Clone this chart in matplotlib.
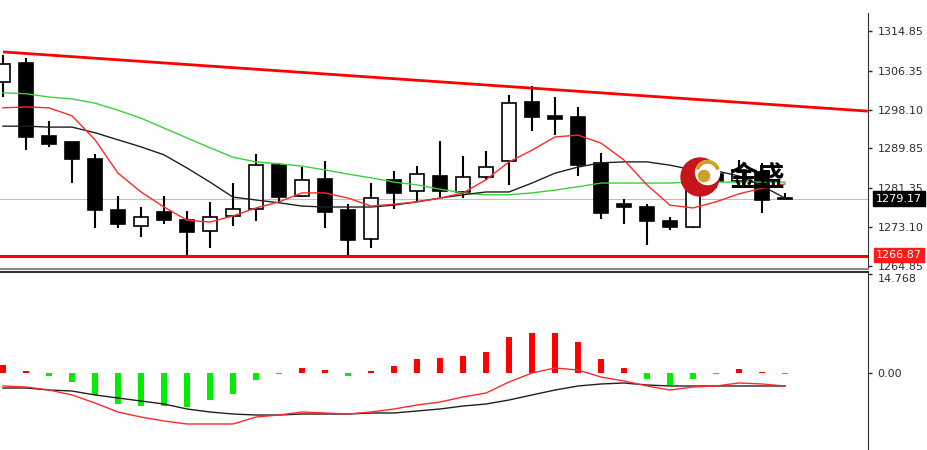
import numpy as np
import matplotlib.pyplot as plt
from matplotlib.patches import Circle, Wedge
from matplotlib.transforms import blended_transform_factory

# candle data
opens = [1304.0, 1308.0, 1292.5, 1291.2, 1287.6, 1276.8, 1273.4, 1276.3, 1274.6, 1272.3,
         1275.5, 1277.0, 1286.3, 1279.7, 1283.4, 1276.8, 1270.6, 1283.1, 1280.8, 1284.0,
         1280.6, 1283.8, 1287.2, 1299.7, 1296.8, 1296.6, 1286.8, 1278.0, 1277.4, 1274.4,
         1273.1, 1284.5, 1283.0, 1284.85, 1279.3]
closes = [1307.8, 1292.3, 1290.8, 1287.6, 1276.8, 1273.8, 1275.3, 1274.6, 1272.1, 1275.3,
          1277.0, 1286.3, 1279.5, 1283.1, 1276.3, 1270.4, 1279.3, 1280.4, 1284.4, 1280.8,
          1283.8, 1285.9, 1299.5, 1296.6, 1296.1, 1286.3, 1276.1, 1277.4, 1274.4, 1273.1,
          1284.5, 1283.0, 1285.3, 1278.9, 1279.17]
highs = [1309.7, 1309.1, 1295.7, 1291.2, 1288.7, 1279.7, 1277.4, 1279.7, 1276.5, 1278.5,
         1282.5, 1288.7, 1286.8, 1285.9, 1287.2, 1278.0, 1282.5, 1285.0, 1286.1, 1291.4,
         1288.3, 1289.3, 1301.2, 1303.1, 1300.8, 1298.7, 1288.9, 1279.1, 1278.0, 1275.3,
         1286.3, 1286.0, 1287.4, 1286.8, 1280.4]
lows = [1300.8, 1289.5, 1290.2, 1282.5, 1272.9, 1272.9, 1271.0, 1273.8, 1266.5, 1268.7,
        1273.4, 1274.4, 1278.2, 1279.5, 1272.9, 1266.5, 1268.7, 1277.0, 1278.5, 1279.5,
        1279.3, 1283.1, 1282.1, 1293.6, 1292.7, 1284.0, 1274.8, 1273.8, 1269.3, 1272.5,
        1272.9, 1281.5, 1282.0, 1276.1, 1279.1]

# moving averages
ma_red = [1298.5, 1298.7, 1298.5, 1296.8, 1291.7, 1284.6, 1280.6, 1277.4, 1274.6, 1274.2,
          1275.5, 1277.2, 1278.5, 1280.4, 1280.4, 1279.3, 1277.6, 1278.0, 1278.5, 1279.3,
          1280.4, 1283.2, 1287.0, 1289.5, 1292.3, 1292.7, 1291.0, 1287.4, 1282.1, 1277.8,
          1277.2, 1278.5, 1280.2, 1281.4, 1282.3]
ma_black = [1294.6, 1294.6, 1294.4, 1294.4, 1293.2, 1291.7, 1290.2, 1288.5, 1285.7, 1282.7,
            1279.5, 1278.9, 1278.3, 1277.6, 1277.4, 1277.4, 1277.4, 1277.8, 1278.5, 1279.3,
            1280.0, 1280.6, 1280.6, 1282.5, 1284.6, 1285.9, 1286.8, 1287.0, 1287.0, 1286.3,
            1285.3, 1285.1, 1284.0, 1281.9, 1279.3]
ma_green = [1301.7, 1301.5, 1300.8, 1300.4, 1299.5, 1298.0, 1296.3, 1294.2, 1292.1, 1290.0,
            1288.0, 1287.0, 1286.6, 1286.1, 1285.3, 1284.4, 1283.6, 1282.7, 1282.1, 1281.2,
            1280.4, 1280.0, 1280.0, 1280.4, 1281.0, 1281.7, 1282.5, 1282.5, 1282.5, 1282.5,
            1282.7, 1282.7, 1282.7, 1282.7, 1282.7]

# MACD panel
dif = [-1.94, -2.09, -2.54, -3.28, -4.48, -5.82, -6.57, -7.16, -7.61, -7.61,
       -7.61, -6.57, -6.27, -5.82, -5.97, -6.12, -5.82, -5.37, -4.78, -4.33,
       -3.58, -2.99, -1.34, 0.0, 0.75, 0.45, -0.60, -1.19, -1.94, -2.54,
       -2.09, -1.94, -1.49, -1.64, -1.94]
dea = [-2.24, -2.24, -2.54, -2.69, -3.28, -3.73, -4.18, -4.63, -5.37, -5.82,
       -6.12, -6.27, -6.27, -6.12, -6.12, -6.12, -5.97, -5.97, -5.67, -5.37,
       -4.93, -4.63, -4.03, -3.28, -2.54, -1.94, -1.64, -1.49, -1.79, -1.94,
       -1.94, -1.94, -1.94, -1.94, -1.94]
hist = [1.19, 0.3, -0.45, -1.34, -3.28, -4.6, -4.9, -4.9, -5.0, -4.0,
        -3.2, -1.0, -0.2, 0.75, 0.45, -0.5, 0.3, 1.1, 2.1, 2.3,
        2.6, 3.2, 5.4, 6.0, 6.0, 4.6, 2.1, 0.75, -0.85, -1.8,
        -0.85, -0.15, 0.6, 0.15, -0.15]

# levels
trend_x = [0, 37.6]
trend_y = [1310.4, 1297.8]
support = 1266.87
last_price = 1279.17
price_ticks = [1314.85, 1306.35, 1298.10, 1289.85, 1281.35, 1273.10, 1264.85]
macd_ticks = [14.768, 0.0]
macd_labels = ['14.768', '0.00']

W, H = 928, 450
fig = plt.figure(figsize=(W / 100, H / 100), dpi=100)


def px_box(x0, y0, x1, y1):
    return [x0 / W, 1 - y1 / H, (x1 - x0) / W, (y1 - y0) / H]


label_col = '#2b2b3b'
ax = fig.add_axes(px_box(0, 13, 868, 269))
ax2 = fig.add_axes(px_box(0, 272, 868, 450))

x = np.arange(len(opens))
o = np.array(opens)
c = np.array(closes)

# candles
ax.vlines(x, lows, highs, color='black', lw=1.5, zorder=2)
up = c >= o
body_lo = np.minimum(o, c)
body_h = np.maximum(np.abs(c - o), 0.15)
ax.bar(x, body_h, bottom=body_lo, width=0.62,
       color=np.where(up, 'white', 'black'), edgecolor='black', lw=1.2, zorder=3)

# moving averages
ax.plot(x, ma_green, color='#3ccf3c', lw=1, zorder=4)
ax.plot(x, ma_black, color='#202020', lw=1, zorder=4)
ax.plot(x, ma_red, color='#ff2a2a', lw=1, zorder=4)

# lines
ax.axhline(last_price, color='#c0c0c0', lw=0.8, zorder=1)
ax.axhline(support, color='#ff0000', lw=2.2, zorder=5)
ax.plot(trend_x, trend_y, color='#ff0000', lw=2, zorder=5, solid_capstyle='butt')

ax.set_xlim(-3 / 23, 865 / 23)
ax.set_ylim(1264.21, 1318.68)
ax.yaxis.tick_right()
ax.set_yticks(price_ticks)
ax.set_yticklabels(['%.2f' % v for v in price_ticks])
ax.tick_params(axis='y', direction='out', length=3, pad=4, labelsize=8,
               colors=label_col, width=1)
ax.set_xticks([])
for s in ['left', 'top']:
    ax.spines[s].set_visible(False)
ax.spines['bottom'].set_color('#8a8a8a')
ax.spines['bottom'].set_linewidth(1.5)
ax.spines['right'].set_color('#333333')

# price boxes on the right axis
tr = blended_transform_factory(ax.transAxes, ax.transData)
ax.text(1 + 8 / 868, last_price, '%.2f' % last_price, transform=tr, fontsize=8,
        color='white', va='center', ha='left', clip_on=False, zorder=10,
        bbox=dict(boxstyle='square,pad=0.25', fc='black', ec='black'))
ax.text(1 + 8 / 868, support + 0.3, '%.2f' % support, transform=tr, fontsize=8,
        color='white', va='center', ha='left', clip_on=False, zorder=10,
        bbox=dict(boxstyle='square,pad=0.2', fc='#ff1a1a', ec='#ff1a1a'))

# MACD panel
hcol = np.where(np.array(hist) >= 0, '#ff0000', '#00ee00')
ax2.bar(x, hist, width=0.24, color=hcol, zorder=2)
ax2.plot(x, dea, color='#202020', lw=1, zorder=3)
ax2.plot(x, dif, color='#ff2a2a', lw=1, zorder=3)
ax2.set_xlim(-3 / 23, 865 / 23)
ax2.set_ylim(-11.49, 15.07)
ax2.yaxis.tick_right()
ax2.set_yticks(macd_ticks)
ax2.set_yticklabels(macd_labels)
ax2.get_yticklabels()[0].set_verticalalignment('top')
ax2.tick_params(axis='y', direction='out', length=3, pad=4, labelsize=8,
                colors=label_col, width=1)
ax2.set_xticks([])
for s in ['left', 'bottom']:
    ax2.spines[s].set_visible(False)
ax2.spines['top'].set_color('#333333')
ax2.spines['top'].set_linewidth(1.5)
ax2.spines['right'].set_color('#333333')

# watermark logo
lg = fig.add_axes(px_box(680, 157, 720, 197))
lg.set_xlim(-1, 1)
lg.set_ylim(-1, 1)
lg.axis('off')
lg.add_patch(Circle((0, 0), 0.95, color='#c8141c'))
lg.add_patch(Circle((0.38, 0.22), 0.6, color='white'))
lg.add_patch(Wedge((0.38, 0.22), 0.6, 20, 160, width=0.12, color='#c9a227'))
lg.add_patch(Circle((0.2, 0.05), 0.28, color='#c9a227'))
fig.text(757 / W, 1 - 178 / H, '金盛', fontsize=20, color='black', ha='center',
         va='center', weight='bold', family=['Noto Sans CJK SC', 'DejaVu Sans'],
         zorder=20)

fig.savefig('out.png', dpi=100, facecolor='white')
